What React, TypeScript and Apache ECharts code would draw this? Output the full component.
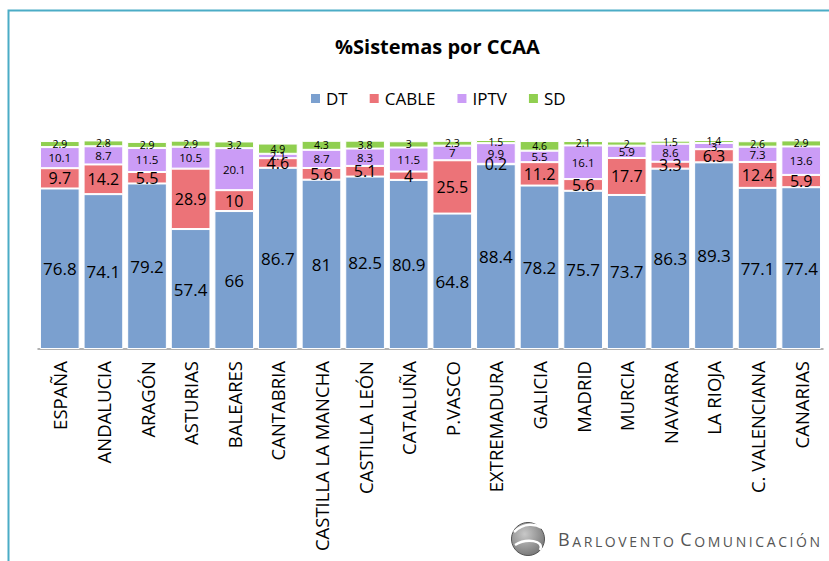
import React, { useEffect, useRef } from "react";
import * as echarts from "echarts";

const categories = [
  "ESPAÑA", "ANDALUCIA", "ARAGÓN", "ASTURIAS", "BALEARES", "CANTABRIA",
  "CASTILLA LA MANCHA", "CASTILLA LEÓN", "CATALUÑA", "P.VASCO", "EXTREMADURA",
  "GALICIA", "MADRID", "MURCIA", "NAVARRA", "LA RIOJA", "C. VALENCIANA", "CANARIAS",
];
const dt = [76.8, 74.1, 79.2, 57.4, 66, 86.7, 81, 82.5, 80.9, 64.8, 88.4, 78.2, 75.7, 73.7, 86.3, 89.3, 77.1, 77.4];
const cable = [9.7, 14.2, 5.5, 28.9, 10, 4.6, 5.6, 5.1, 4, 25.5, 0.2, 11.2, 5.6, 17.7, 3.3, 6.3, 12.4, 5.9];
const iptv = [10.1, 8.7, 11.5, 10.5, 20.1, 2.1, 8.7, 8.3, 11.5, 7, 9.9, 5.5, 16.1, 5.9, 8.6, 3, 7.3, 13.6];
const sd = [2.9, 2.8, 2.9, 2.9, 3.2, 4.9, 4.3, 3.8, 3, 2.3, 1.5, 4.6, 2.1, 2, 1.5, 1.4, 2.6, 2.9];

const FONT = "'Open Sans', sans-serif";
const LOGO_WORDS = ["BARLOVENTO", "COMUNICACIÓN"];

function logoRich(): string {
  return LOGO_WORDS.map((w) =>
    w.split("").map((ch, i) => `{${i === 0 ? "b" : "s"}|${ch}}`).join("")
  ).join("{sp| }");
}

export default function App() {
  const ref = useRef<HTMLDivElement>(null);
  useEffect(() => {
    if (!ref.current) return;
    const chart = echarts.init(ref.current, undefined, { renderer: "svg" });
    const mk = (name: string, data: number[], color: string, fs: number) => ({
      name,
      type: "bar",
      stack: "total",
      data,
      barCategoryGap: "9%",
      itemStyle: { color, borderColor: "#ffffff", borderWidth: 1 },
      label: {
        show: true,
        position: "inside",
        color: "#000",
        fontSize: fs,
        fontFamily: FONT,
      },
    });
    chart.setOption({
      animation: false,
      backgroundColor: "#ffffff",
      title: {
        text: "%Sistemas por CCAA",
        left: 330,
        top: 31,
        textStyle: { fontSize: 20, fontWeight: "bold", fontFamily: FONT, color: "#000" },
      },
      legend: {
        top: 85,
        left: 304,
        itemWidth: 11,
        itemHeight: 11,
        itemGap: 20,
        icon: "rect",
        textStyle: { fontSize: 17, fontFamily: FONT, color: "#000" },
        data: ["DT", "CABLE", "IPTV", "SD"],
      },
      grid: { left: 38, right: 6, top: 140, bottom: 212, containLabel: false },
      xAxis: {
        type: "category",
        data: categories,
        axisTick: { show: false },
        axisLine: { lineStyle: { color: "#999", width: 1.5 } },
        axisLabel: {
          interval: 0,
          rotate: 90,
          fontSize: 18.5,
          fontFamily: FONT,
          color: "#000",
          margin: 12,
        },
      },
      yAxis: { type: "value", min: 0, max: 100, show: false, splitLine: { show: false } },
      series: [
        mk("DT", dt, "#7ba0cf", 17),
        mk("CABLE", cable, "#ec7378", 16),
        mk("IPTV", iptv, "#cb9cf6", 11.5),
        mk("SD", sd, "#90cf50", 10.5),
      ],
      graphic: [
        {
          type: "polyline",
          shape: { points: [[8.5, 561], [8.5, 10.5], [829, 10.5]] },
          style: { stroke: "#4bacc6", lineWidth: 2, fill: null },
        },
        {
          type: "circle",
          shape: { cx: 528, cy: 539, r: 16.5 },
          style: {
            fill: new echarts.graphic.RadialGradient(0.4, 0.35, 0.8, [
              { offset: 0, color: "#c8c8c8" },
              { offset: 1, color: "#6a6a6a" },
            ]),
            stroke: "#555",
            lineWidth: 1,
          },
        },
        {
          type: "bezierCurve",
          shape: { x1: 514, y1: 532, x2: 542, y2: 528, cpx1: 524, cpy1: 522, cpx2: 536, cpy2: 524 },
          style: { stroke: "#fff", lineWidth: 2.5, fill: null },
        },
        {
          type: "bezierCurve",
          shape: { x1: 515, y1: 545, x2: 540, y2: 550, cpx1: 526, cpy1: 538, cpx2: 545, cpy2: 540 },
          style: { stroke: "#fff", lineWidth: 2.5, fill: null },
        },
        {
          type: "text",
          left: 558,
          top: 530,
          style: {
            text: logoRich(),
            rich: {
              b: { fontSize: 18, fontFamily: FONT, fill: "#555", padding: [0, 2.6, 0, 0], verticalAlign: "bottom" },
              s: { fontSize: 14, fontFamily: FONT, fill: "#555", padding: [0, 2.6, 0, 0], verticalAlign: "bottom" },
              sp: { fontSize: 14, fontFamily: FONT, fill: "#555", verticalAlign: "bottom" },
            },
          },
        },
      ],
    });
    return () => chart.dispose();
  }, []);
  return (
    <div
      ref={ref}
      style={{ position: "fixed", left: 0, top: 0, width: 829, height: 561 }}
    />
  );
}
